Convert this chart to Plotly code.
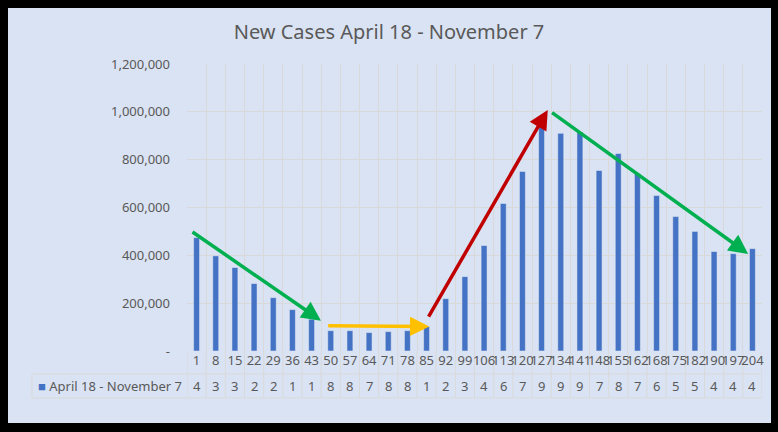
import plotly.graph_objects as go

days = ["1", "8", "15", "22", "29", "36", "43", "50", "57", "64", "71", "78", "85", "92", "99",
        "106", "113", "120", "127", "134", "141", "148", "155", "162", "168", "175", "182", "190", "197", "204"]
new_cases = [474000, 398000, 349000, 282000, 223000, 173000, 133000, 85000, 85000, 77000, 81000, 85000,
             102000, 219000, 311000, 441000, 617000, 751000, 956000, 910000, 916000, 755000, 826000,
             741000, 650000, 562000, 500000, 416000, 407000, 428000]
series_name = "April 18 - November 7"
title_text = "New Cases April 18 - November 7"
y_tickvals = [0, 200000, 400000, 600000, 800000, 1000000, 1200000]
y_ticktext = ["-", "200,000", "400,000", "600,000", "800,000", "1,000,000", "1,200,000"]

# trend arrows (tail x, tail y, head x, head y, colour) in category-index / value units
arrows = [
    (-0.29, 502000, 6.49, 127000, "#00B050"),
    (6.79, 106000, 12.14, 102000, "#FFC000"),
    (12.06, 137000, 18.32, 1008000, "#C00000"),
    (18.47, 1001000, 28.78, 406000, "#00B050"),
]

BG = "#DAE3F3"
GRID = "#D9D9D9"
TXT = "#595959"
FONT = "Noto Sans"

W, H = 778, 432
L, R, T, B = 187, 16, 64, 81
pw, ph = W - L - R, H - T - B

def px_x(p):
    return (p - L) / pw

def px_y(p):
    return (H - B - p) / ph

fig = go.Figure()
fig.add_trace(go.Bar(x=days, y=new_cases, name=series_name, marker_color="#4472C4",
                     showlegend=False))

shapes = []
# light panel inside black frame
shapes.append(dict(type="rect", xref="paper", yref="paper", x0=px_x(8), x1=px_x(771),
                   y0=px_y(423), y1=px_y(8), fillcolor=BG, line_width=0, layer="below"))
# data table lines
n = len(days)
for k in range(n + 1):
    shapes.append(dict(type="line", xref="x", yref="paper", x0=k - 0.5, x1=k - 0.5,
                       y0=px_y(398), y1=0, line=dict(color=GRID, width=1), layer="below"))
for py in (374, 398):
    shapes.append(dict(type="line", xref="paper", yref="paper", x0=px_x(32), x1=1,
                       y0=px_y(py), y1=px_y(py), line=dict(color=GRID, width=1), layer="below"))
shapes.append(dict(type="line", xref="paper", yref="paper", x0=px_x(32), x1=px_x(32),
                   y0=px_y(398), y1=px_y(374), line=dict(color=GRID, width=1), layer="below"))

annotations = []
for i, v in enumerate(new_cases):
    annotations.append(dict(x=i, y=px_y(386), xref="x", yref="paper", text=str(v)[0],
                            yanchor="middle", showarrow=False,
                            font=dict(family=FONT, size=13, color=TXT)))
annotations.append(dict(x=px_x(36), y=px_y(386), xref="paper", yref="paper", xanchor="left",
                        yanchor="middle",
                        text="<span style='color:#4472C4;font-size:13px'>■</span> " + series_name,
                        showarrow=False, font=dict(family=FONT, size=13, color=TXT)))
for tx, ty, hx, hy, col in arrows:
    annotations.append(dict(x=hx, y=hy, ax=tx, ay=ty, xref="x", yref="y", axref="x", ayref="y",
                            text="", showarrow=True, arrowhead=2, arrowsize=1.1,
                            arrowwidth=3.5, arrowcolor=col, standoff=0))

fig.update_layout(
    width=W, height=H,
    margin=dict(l=L, r=R, t=T, b=B, autoexpand=False),
    paper_bgcolor="black",
    plot_bgcolor="rgba(0,0,0,0)",
    bargap=0.69,
    title=dict(text=title_text, x=0.5, xref="container", y=1 - 32 / H, yref="container",
               xanchor="center", yanchor="middle",
               font=dict(family=FONT, size=20, color=TXT)),
    xaxis=dict(type="category", range=[-0.5, n - 0.5], tickmode="array", tickvals=days,
               ticktext=days, tickangle=0, tickson="boundaries", showgrid=True,
               gridcolor=GRID, gridwidth=1, ticks="", zeroline=False, showline=False,
               automargin=False,
               tickfont=dict(family=FONT, size=13, color=TXT)),
    yaxis=dict(range=[0, 1200000], tickmode="array", tickvals=y_tickvals, ticktext=y_ticktext,
               showgrid=True, gridcolor=GRID, gridwidth=1, zeroline=False, showline=False,
               ticks="", ticklabelstandoff=16, automargin=False,
               tickfont=dict(family=FONT, size=13, color=TXT)),
    shapes=shapes,
    annotations=annotations,
    font=dict(family=FONT, color=TXT),
)

fig.write_html("out.html", config={"displayModeBar": False},
               post_script="document.body.style.margin='0';document.body.style.padding='0';"
                           "document.body.style.background='black';")
